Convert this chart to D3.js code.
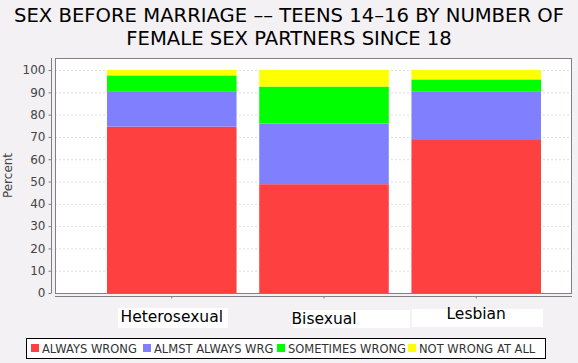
<!DOCTYPE html>
<html>
<head>
<meta charset="utf-8">
<script src="https://cdn.jsdelivr.net/npm/d3@7"></script>
<style>
  body { margin: 0; background: #f3f1f4; }
  svg { display: block; font-family: "DejaVu Sans", sans-serif; }
</style>
</head>
<body>
<div id="plot"></div>
<script>
// chart data
var categories = ["Heterosexual", "Bisexual", "Lesbian"];
var seriesNames = ["ALWAYS WRONG", "ALMST ALWAYS WRG", "SOMETIMES WRONG", "NOT WRONG AT ALL"];
var alwaysWrong = [74.6, 48.8, 69.0];
var almostAlwaysWrong = [15.6, 27.2, 21.5];
var sometimesWrong = [7.4, 16.6, 5.3];
var notWrongAtAll = [2.4, 7.4, 4.2];
var yTicks = [0, 10, 20, 30, 40, 50, 60, 70, 80, 90, 100];
var colors = ["#ff4040", "#8080ff", "#00ff00", "#ffff00"];

var W = 578, H = 363;
var plot = {left: 55, top: 58, right: 572, bottom: 293};

var svg = d3.select("#plot").append("svg")
  .attr("width", W).attr("height", H);

svg.append("rect").attr("width", W).attr("height", H).attr("fill", "#f3f1f4");

// title
var title = ["SEX BEFORE MARRIAGE -- TEENS 14-16 BY NUMBER OF", "FEMALE SEX PARTNERS SINCE 18"];
svg.selectAll("text.title").data(title).enter().append("text")
  .attr("class", "title")
  .attr("x", W / 2)
  .attr("y", (d, i) => 22 + i * 23)
  .attr("text-anchor", "middle")
  .style("font-size", "19.6px")
  .style("fill", "#000")
  .text(d => d.replace(/-/g, "\u2013"));

var rows = categories.map(function(c, i) {
  return {cat: c, s0: alwaysWrong[i], s1: almostAlwaysWrong[i], s2: sometimesWrong[i], s3: notWrongAtAll[i]};
});
var stack = d3.stack().keys(["s0", "s1", "s2", "s3"])(rows);

// bars sit off-centre in the plot, first at 107 and last ending at 541
var x = d3.scaleBand().domain(categories)
  .range([107, 541]).paddingInner(0.149).paddingOuter(0);
var y = d3.scaleLinear().domain([0, 105.4]).range([plot.bottom, plot.top]);

// plot background
svg.append("rect")
  .attr("x", plot.left).attr("y", plot.top)
  .attr("width", plot.right - plot.left).attr("height", plot.bottom - plot.top)
  .attr("fill", "#fff");

// grid
svg.append("g").selectAll("line").data(yTicks.slice(1)).enter().append("line")
  .attr("x1", plot.left).attr("x2", plot.right)
  .attr("y1", d => y(d) + 0.5).attr("y2", d => y(d) + 0.5)
  .attr("stroke", "#c8c8c8").attr("stroke-width", 0.6)
  .attr("stroke-dasharray", "2,2");

// bars
svg.append("g").selectAll("g").data(stack).enter().append("g")
  .attr("fill", (d, i) => colors[i])
  .selectAll("rect").data(d => d).enter().append("rect")
    .attr("x", d => x(d.data.cat))
    .attr("width", x.bandwidth())
    .attr("y", d => y(d[1]))
    .attr("height", d => y(d[0]) - y(d[1]));

// plot border
svg.append("rect")
  .attr("x", plot.left + 0.5).attr("y", plot.top + 0.5)
  .attr("width", plot.right - plot.left - 1).attr("height", plot.bottom - plot.top)
  .attr("fill", "none").attr("stroke", "#808080");

// y axis
var yAxis = svg.append("g")
  .attr("transform", "translate(51.5,0)")
  .call(d3.axisLeft(y).tickValues(yTicks).tickSize(3).tickPadding(3));
yAxis.select(".domain").attr("stroke", "#808080").attr("d", "M0," + plot.top + "V" + plot.bottom);
yAxis.selectAll(".tick line").attr("stroke", "#808080");
yAxis.selectAll(".tick text").style("font-size", "12px").style("fill", "#444")
  .style("font-family", "DejaVu Sans, sans-serif");

svg.append("text")
  .attr("transform", "translate(12," + ((plot.top + plot.bottom) / 2) + ") rotate(-90)")
  .attr("text-anchor", "middle")
  .style("font-size", "12px").style("fill", "#444")
  .text("Percent");

// x axis
var xAxis = svg.append("g")
  .attr("transform", "translate(0,296.5)")
  .call(d3.axisBottom(x).tickSize(2).tickFormat(""));
xAxis.select(".domain").attr("stroke", "#808080").attr("d", "M" + plot.left + ",0H" + plot.right);
xAxis.selectAll(".tick line").attr("stroke", "#808080");

// category labels with their white boxes
var labelBoxes = [[118, 308, 110, 20], [293, 310, 117, 18], [412, 309, 131, 18]];
var labelY = [322, 324, 319];
var labels = svg.append("g");
labels.selectAll("rect").data(labelBoxes).enter().append("rect")
  .attr("x", d => d[0]).attr("y", d => d[1])
  .attr("width", d => d[2]).attr("height", d => d[3])
  .attr("fill", "#fff");
labels.selectAll("text").data(categories).enter().append("text")
  .attr("x", d => x(d) + x.bandwidth() / 2)
  .attr("y", (d, i) => labelY[i])
  .attr("text-anchor", "middle")
  .style("font-size", "15.5px").style("fill", "#000")
  .text(d => d);

// legend
var legend = svg.append("g");
legend.append("rect")
  .attr("x", 26.5).attr("y", 338.5).attr("width", 519).attr("height", 20)
  .attr("fill", "#fff").attr("stroke", "#000");
var legendX = [31, 143, 277, 408];
var items = legend.selectAll("g.item").data(seriesNames).enter().append("g")
  .attr("transform", (d, i) => "translate(" + legendX[i] + ",0)");
items.append("rect")
  .attr("x", 0).attr("y", 344).attr("width", 8).attr("height", 8)
  .attr("fill", (d, i) => colors[i]);
items.append("text")
  .attr("x", 11).attr("y", 353)
  .style("font-size", "11.5px").style("fill", "#333")
  .text(d => d);
</script>
</body>
</html>
